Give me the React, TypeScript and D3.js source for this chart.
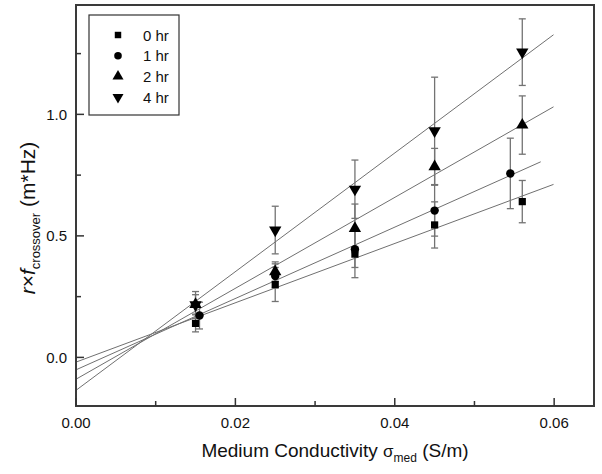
import * as d3 from "d3";

// measurement times
const series = ["0 hr", "1 hr", "2 hr", "4 hr"];

// medium conductivity (S/m)
const x0 = [0.015, 0.025, 0.035, 0.045, 0.056];
const x1 = [0.0155, 0.025, 0.035, 0.045, 0.0545];
const x2 = [0.015, 0.025, 0.035, 0.045, 0.056];
const x4 = [0.015, 0.025, 0.035, 0.045, 0.056];

// r x f_crossover (m*Hz)
const y0 = [0.14, 0.3, 0.425, 0.545, 0.641];
const y1 = [0.172, 0.335, 0.445, 0.604, 0.757];
const y2 = [0.218, 0.353, 0.531, 0.785, 0.956];
const y4 = [0.216, 0.524, 0.692, 0.932, 1.256];

// error bars (+/-)
const e0 = [0.035, 0.07, 0.097, 0.095, 0.087];
const e1 = [0.055, 0.05, 0.075, 0.105, 0.145];
const e2 = [0.04, 0.04, 0.1, 0.075, 0.12];
const e4 = [0.055, 0.098, 0.12, 0.221, 0.137];

const xTicks = [0, 0.02, 0.04, 0.06];
const xMinor = [0.01, 0.03, 0.05];
const yTicks = [0, 0.5, 1.0];
const yMinor = [0.25, 0.75, 1.25];

const W = 602;
const H = 474;
const left = 76, right = 594, top = 5, bottom = 406;
const font = "'Liberation Sans', Arial, Helvetica, sans-serif";

const xs = [x0, x1, x2, x4];
const ys = [y0, y1, y2, y4];
const es = [e0, e1, e2, e4];
const shapes = [d3.symbolSquare, d3.symbolCircle, d3.symbolTriangle, d3.symbolTriangle];
const sizes = [52, 56, 66, 66];
const rot = [0, 0, 0, 180];

// least squares fit, like the linear fits of the original
function fit(x: number[], y: number[]) {
  const mx = d3.mean(x)!, my = d3.mean(y)!;
  const sxy = d3.sum(x, (v, i) => (v - mx) * (y[i] - my));
  const sxx = d3.sum(x, v => (v - mx) ** 2);
  const b = sxy / sxx;
  return { a: my - b * mx, b };
}

export default function App() {
  const xScale = d3.scaleLinear().domain([0, 0.065]).range([left, right]);
  const yScale = d3.scaleLinear().domain([-0.2, 1.45]).range([bottom, top]);
  const sym = (i: number, k = 1) => d3.symbol().type(shapes[i]).size(sizes[i] * k)()!;
  const fmtX = d3.format(".2f");
  const fmtY = d3.format(".1f");

  return (
    <svg width={W} height={H} style={{ position: "absolute", left: 0, top: 0, background: "#fff" }}
      fontFamily={font}>
      {/* fit lines */}
      {series.map((s, i) => {
        const { a, b } = fit(xs[i], ys[i]);
        const xEnd = d3.max(xs[i])! * 1.07;
        return (
          <line key={"fit" + s} x1={xScale(0)} y1={yScale(a)} x2={xScale(xEnd)} y2={yScale(a + b * xEnd)}
            stroke="#707070" strokeWidth={1} />
        );
      })}
      {/* error bars */}
      {series.map((s, i) => (
        <g key={"err" + s} stroke="#737373" strokeWidth={1.3}>
          {xs[i].map((xv, j) => {
            const cx = xScale(xv);
            const yt = yScale(ys[i][j] + es[i][j]);
            const yb = yScale(ys[i][j] - es[i][j]);
            return (
              <g key={j}>
                <line x1={cx} x2={cx} y1={yt} y2={yb} />
                <line x1={cx - 3.5} x2={cx + 3.5} y1={yt} y2={yt} />
                <line x1={cx - 3.5} x2={cx + 3.5} y1={yb} y2={yb} />
              </g>
            );
          })}
        </g>
      ))}
      {/* markers */}
      {series.map((s, i) => (
        <g key={"pt" + s} fill="#000">
          {xs[i].map((xv, j) => (
            <path key={j} d={sym(i)}
              transform={`translate(${xScale(xv)},${yScale(ys[i][j])}) rotate(${rot[i]})`} />
          ))}
        </g>
      ))}
      {/* frame */}
      <rect x={left} y={top} width={right - left} height={bottom - top} fill="none" stroke="#3a3a3a" strokeWidth={2} />
      {/* x ticks */}
      {xTicks.map(t => (
        <g key={"xt" + t}>
          <line x1={xScale(t)} x2={xScale(t)} y1={bottom} y2={bottom - 8} stroke="#333" strokeWidth={1.5} />
          <text x={xScale(t)} y={428} textAnchor="middle" fontSize={15} fill="#111">{fmtX(t)}</text>
        </g>
      ))}
      {xMinor.map(t => (
        <line key={"xm" + t} x1={xScale(t)} x2={xScale(t)} y1={bottom} y2={bottom - 5} stroke="#333" strokeWidth={1.5} />
      ))}
      {/* y ticks */}
      {yTicks.map(t => (
        <g key={"yt" + t}>
          <line x1={left} x2={left + 8} y1={yScale(t)} y2={yScale(t)} stroke="#333" strokeWidth={1.5} />
          <text x={67} y={yScale(t) + 5.5} textAnchor="end" fontSize={15} fill="#111">{fmtY(t)}</text>
        </g>
      ))}
      {yMinor.map(t => (
        <line key={"ym" + t} x1={left} x2={left + 5} y1={yScale(t)} y2={yScale(t)} stroke="#333" strokeWidth={1.5} />
      ))}
      {/* axis titles */}
      <text x={(left + right) / 2} y={457} textAnchor="middle" fontSize={19} fill="#111">
        Medium Conductivity <tspan fontSize={17}>σ</tspan>
        <tspan fontSize={12} dy={5}>med</tspan>
        <tspan dy={-5}> (S/m)</tspan>
      </text>
      <text transform={`translate(35,218) rotate(-90)`} textAnchor="middle" fontSize={21} fill="#111">
        <tspan fontStyle="italic">r</tspan>×<tspan fontStyle="italic">f</tspan>
        <tspan fontSize={13} dy={5}>crossover</tspan>
        <tspan dy={-5}> (m*Hz)</tspan>
      </text>
      {/* legend */}
      <rect x={89} y={15} width={90} height={100} fill="#fff" stroke="#333" strokeWidth={1.2} />
      {series.map((s, i) => (
        <g key={"lg" + s} transform={`translate(0,${35 + i * 20.7})`}>
          <path d={sym(i, 0.8)} transform={`translate(118,0) rotate(${rot[i]})`} fill="#000" />
          <text x={143} y={5.5} fontSize={15} fill="#111">{s}</text>
        </g>
      ))}
    </svg>
  );
}
